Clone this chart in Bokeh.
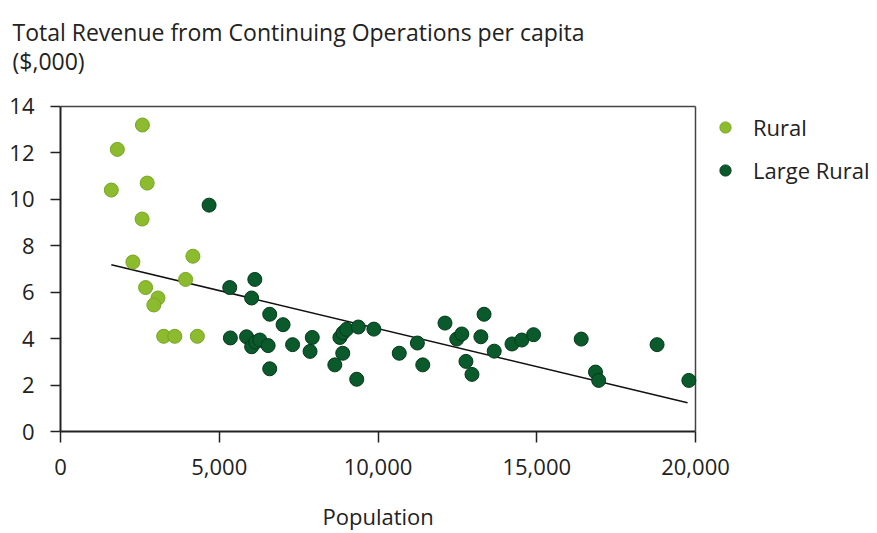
from bokeh.plotting import figure
from bokeh.models import Legend, LegendItem, Title, NumeralTickFormatter, FixedTicker, Range1d
from bokeh.embed import file_html
from bokeh.resources import INLINE

# ---- data ----
rural_pop = [2580, 1790, 2730, 1600, 2570, 4170, 2280, 3940, 2680, 3070, 2940, 3250, 3600, 4310]
rural_rev = [13.2, 12.15, 10.7, 10.4, 9.15, 7.55, 7.3, 6.55, 6.2, 5.75, 5.45, 4.1, 4.1, 4.1]

large_pop = [4680, 6120, 5330, 6020, 6590, 7010, 5350, 5860, 6020, 6150, 6280, 6540, 6590,
             7310, 7930, 7860, 8800, 8900, 9010, 9380, 8890, 8640, 9330, 9870, 10670, 11240,
             11410, 12110, 12480, 12640, 13340, 13240, 12770, 12960, 13660, 14220, 14530,
             14900, 16400, 16850, 16950, 18790, 19790]
large_rev = [9.75, 6.55, 6.2, 5.75, 5.05, 4.6, 4.03, 4.08, 3.65, 3.85, 3.94, 3.7, 2.7,
             3.74, 4.05, 3.45, 4.05, 4.25, 4.4, 4.5, 3.37, 2.87, 2.25, 4.41, 3.37, 3.81,
             2.87, 4.67, 3.98, 4.2, 5.05, 4.08, 3.02, 2.46, 3.46, 3.77, 3.94,
             4.17, 3.98, 2.56, 2.2, 3.74, 2.2]

trend_pop = [1600, 19750]
trend_rev = [7.18, 1.24]

x_ticks = [0, 5000, 10000, 15000, 20000]
y_ticks = [0, 2, 4, 6, 8, 10, 12, 14]

title_lines = ["Total Revenue from Continuing Operations per capita", "($,000)"]
x_label = "Population"
series_names = ["Rural", "Large Rural"]

FONT = "Open Sans"
TXT = "#222222"
C_RURAL = "#8cbb2e"
C_RURAL_LINE = "#77a524"
C_LARGE = "#0b5a2c"
C_LARGE_LINE = "#053a1a"
FRAME = "#444444"
NBSP = "\u00a0"

W, H = 877, 533
FRAME_L, FRAME_T, FRAME_B = 60, 102, 435
PLOT_R, PLOT_T = 695, 106          # pixel positions of x=20000 and y=14
x_max, y_max = x_ticks[-1], y_ticks[-1]
x_end = x_max * (W - FRAME_L) / (PLOT_R - FRAME_L)
y_end = y_max * (FRAME_B - FRAME_T) / (FRAME_B - PLOT_T)

p = figure(width=W, height=H, output_backend="svg", toolbar_location=None,
           x_range=Range1d(0, x_end), y_range=Range1d(0, y_end),
           min_border_left=FRAME_L, min_border_right=0,
           min_border_top=FRAME_T, min_border_bottom=H - FRAME_B)
p.title.visible = False
p.grid.visible = False
p.outline_line_color = None
p.background_fill_color = "white"
p.border_fill_color = "white"

for ax in (p.xaxis[0], p.yaxis[0]):
    ax.axis_line_color = "#222222"
    ax.axis_line_width = 2
    ax.major_tick_line_color = "#222222"
    ax.major_tick_line_width = 1.5
    ax.major_tick_in = 0
    ax.minor_tick_line_color = None
    ax.major_label_text_font = FONT
    ax.major_label_text_font_size = "22px"
    ax.major_label_text_color = TXT

p.xaxis.ticker = FixedTicker(ticks=x_ticks)
p.xaxis.bounds = (0, x_max)
p.xaxis.formatter = NumeralTickFormatter(format="0,0")
p.xaxis.major_tick_out = 11
p.xaxis.major_label_standoff = 16

p.yaxis.ticker = FixedTicker(ticks=y_ticks)
p.yaxis.bounds = (0, y_max)
p.yaxis.major_tick_out = 10
p.yaxis.major_label_standoff = 16

# top and right sides of the plot box
p.segment(x0=[0, x_max], y0=[y_max, 0], x1=[x_max, x_max], y1=[y_max, y_max],
          line_color=FRAME, line_width=1.5)

r_trend = p.line(trend_pop, trend_rev, line_color="#111111", line_width=1.6)
r_large = p.scatter(large_pop, large_rev, size=14, fill_color=C_LARGE,
                    line_color=C_LARGE_LINE, line_width=1)
r_rural = p.scatter(rural_pop, rural_rev, size=14, fill_color=C_RURAL,
                    line_color=C_RURAL_LINE, line_width=1)

legend = Legend(items=[LegendItem(label=series_names[0], renderers=[r_rural]),
                       LegendItem(label=series_names[1], renderers=[r_large])],
                location=(649, 246), orientation="vertical")
legend.border_line_color = None
legend.background_fill_alpha = 0
legend.margin = 0
legend.padding = 0
legend.glyph_width = 32
legend.glyph_height = 28
legend.label_height = 28
legend.spacing = 13
legend.label_standoff = 12
legend.label_text_font = FONT
legend.label_text_font_size = "22px"
legend.label_text_color = TXT
p.add_layout(legend, "center")

# chart title (two lines; a blank third line lifts it away from the plot box)
p.add_layout(Title(text="\n".join(title_lines + [NBSP]), text_font=FONT, text_font_size="23px",
                   text_font_style="normal", text_color=TXT, align="left",
                   offset=-(FRAME_L - 12), standoff=-6, text_line_height=0.894), "above")

# x-axis label under the plot box (a blank first line pushes it down)
p.add_layout(Title(text=NBSP + "\n" + x_label, text_font=FONT, text_font_size="22px",
                   text_font_style="normal", text_color=TXT, align="left",
                   offset=262, standoff=4, text_line_height=0.68), "below")

open("out.html", "w").write(file_html(p, INLINE))
